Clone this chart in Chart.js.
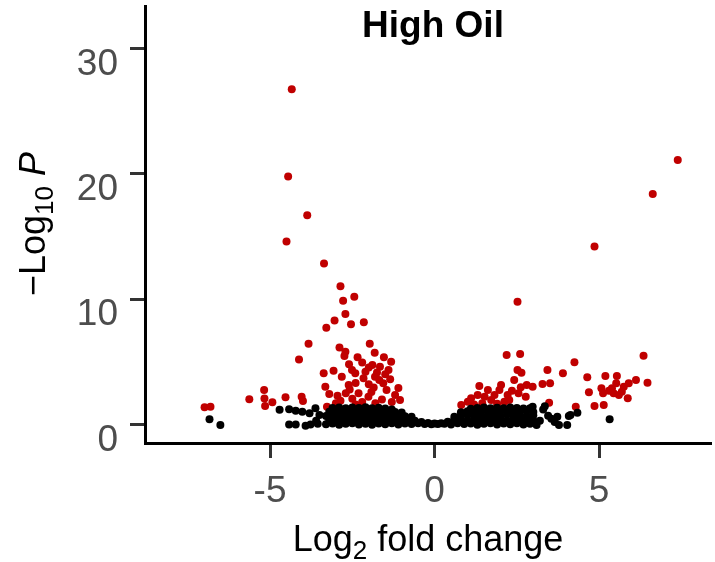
<!DOCTYPE html>
<html>
<head>
<meta charset="utf-8">
<script src="https://cdn.jsdelivr.net/npm/chart.js@4.4.1/dist/chart.umd.min.js"></script>
<style>
  html, body { margin: 0; padding: 0; background: #fff; }
  #wrap { width: 715px; height: 562px; }
</style>
</head>
<body>
<div id="wrap"><canvas id="chart" width="715" height="562"></canvas></div>
<script>
// ejes
const xTicks = [-5, 0, 5];
const yTicks = [0, 10, 20, 30];
const titulo = 'High Oil';

// genes significativos (rojo): [log2FC, -log10 P]
const rojos = [
  [-6.99,1.37],[-6.81,1.42],
  [-5.63,2.01],[-5.18,2.75],[-5.17,2.08],[-5.15,1.48],[-4.93,1.78],[-4.53,2.17],[-4.04,2.22],[-4.00,1.88],
  [-4.34,26.75],[-4.45,19.8],[-3.87,16.7],[-4.50,14.6],[-3.36,12.85],
  [-2.86,11.04],[-2.78,9.87],[-2.44,10.2],[-2.71,8.81],[-3.04,8.3],[-3.29,7.72],[-2.54,7.99],[-2.15,8.15],
  [-3.83,6.45],[-4.12,5.18],[-2.89,6.15],[-2.71,5.8],[-2.74,5.46],[-2.34,5.36],[-1.97,6.45],[-1.82,5.72],[-1.54,5.36],[-1.32,5.01],
  [-1.89,4.74],[-1.66,4.61],[-1.40,4.35],[-3.37,4.08],[-3.07,4.29],[-2.82,3.81],[-2.51,4.35],[-2.41,4.08],[-2.16,3.68],[-1.81,3.81],[-1.68,3.55],[-1.56,3.28],
  [-3.32,3.01],[-3.20,2.43],[-2.61,3.15],[-2.58,2.8],[-2.31,2.49],[-2.01,2.22],[-1.92,2.6],[-1.46,2.75],[-1.20,2.35],[-1.05,1.95],[-2.86,1.90],[-3.27,1.42],
  [-2.6,4.8],[-2.2,4.95],[-2.0,4.55],[-1.75,4.15],[-2.4,3.3],[-2.0,3.2],[-1.85,2.95],[-2.7,2.5],[-2.5,2.05],[-1.6,2.0],[-1.3,1.8],[-2.2,1.8],
  [-1.8,1.7],[-3.0,1.7],[-2.4,1.6],[-1.1,2.9],[-1.35,3.6],[-2.95,2.3],[-2.1,4.2],[-1.5,4.0],
  [0.81,1.55],[1.01,1.82],[1.11,2.09],[1.31,2.35],[1.36,3.07],[1.52,2.22],[1.62,2.75],[1.72,1.95],[1.82,2.35],[1.97,2.75],[2.02,3.15],
  [2.12,1.82],[2.22,2.35],[2.27,1.95],[1.45,1.7],[1.2,1.6],[1.9,1.65],[2.35,2.7],
  [2.52,9.79],[2.19,5.54],[2.60,5.62],[2.52,4.35],[2.64,4.13],[2.42,3.55],[2.62,2.96],[2.80,3.15],[2.98,3.01],[2.77,2.22],[2.55,2.5],
  [3.43,4.35],[3.51,3.28],[3.28,3.23],[3.48,1.74],[3.90,4.08],
  [4.25,4.96],[4.29,1.42],[4.64,3.76],[4.69,2.57],[4.86,1.48],[5.14,1.56],[5.07,2.89],[5.12,2.49],[5.19,3.87],[5.39,2.89],[5.52,3.28],
  [5.44,2.49],[5.54,3.87],[5.60,2.35],[5.69,2.62],[5.87,2.09],[5.90,3.28],[6.12,3.55],[6.35,5.49],[6.47,3.33],[5.75,3.0],[5.3,2.7],
  [4.86,14.2],[6.63,18.4],[7.39,21.1]
];

// genes no significativos (negro)
const negros = [
  [-6.84,0.41],[-6.51,-0.04],[-4.71,1.18],[-4.42,1.21],[-4.22,1.1],[-4.02,1.02],[-3.8,0.9],[-3.62,1.29],
  [-4.42,0.0],[-4.22,0.0],[-3.92,-0.1],[-3.77,0.0],[-3.6,0.3],[-3.5,0.75],[-3.55,0.05],
  [3.3,1.2],[3.45,0.7],[3.55,0.45],[3.65,0.2],[3.78,-0.04],[3.73,0.62],[4.03,-0.04],[4.08,0.68],[4.13,0.76],
  [4.34,0.94],[5.32,0.41],[3.2,0.3],[3.35,1.45],[3.1,-0.05],[2.98,1.42],[3.08,0.1],
  [-3.3,0.02],[-3.1,0.08],[-2.9,-0.02],[-2.7,0.05],[-2.5,0.1],[-2.3,0.0],[-2.1,0.06],[-1.9,-0.03],[-1.7,0.08],[-1.5,0.02],
  [-1.3,0.1],[-1.1,0.0],[-0.9,0.07],[-0.7,0.03],[-0.5,0.1],[-0.3,0.04],[-0.1,0.02],[0.1,0.03],[0.3,0.06],[0.5,0.0],
  [0.7,0.09],[0.9,0.03],[1.1,0.08],[1.3,-0.02],[1.5,0.06],[1.7,0.1],[1.9,0.0],[2.1,0.07],[2.3,0.02],[2.5,0.09],[2.7,-0.01],[2.9,0.05],
  [-0.2,0.12],[0.0,0.08],[0.2,0.1],[-0.4,0.2],[0.4,0.22],[-0.6,0.3],[0.6,0.4],
  [-3.2,0.38],[-3.0,0.32],[-2.8,0.4],[-2.6,0.3],[-2.4,0.36],[-2.2,0.42],[-2.0,0.33],[-1.8,0.38],[-1.6,0.3],[-1.4,0.4],
  [-1.2,0.35],[-1.0,0.32],[-0.8,0.4],
  [0.8,0.38],[1.0,0.32],[1.2,0.4],[1.4,0.35],[1.6,0.3],[1.8,0.42],[2.0,0.36],[2.2,0.3],[2.4,0.38],[2.6,0.34],[2.8,0.4],[3.0,0.32],
  [-3.3,0.68],[-3.1,0.75],[-2.9,0.7],[-2.7,0.66],[-2.5,0.74],[-2.3,0.7],[-2.1,0.77],[-1.9,0.68],[-1.7,0.72],[-1.5,0.66],
  [-1.3,0.75],[-1.1,0.7],[-0.9,0.66],[-0.7,0.62],
  [0.6,0.62],[0.8,0.7],[1.0,0.75],[1.2,0.68],[1.4,0.72],[1.6,0.66],[1.8,0.74],[2.0,0.7],[2.2,0.77],[2.4,0.68],[2.6,0.72],[2.8,0.66],[3.0,0.74],
  [-3.2,1.02],[-3.0,1.08],[-2.8,1.0],[-2.6,1.06],[-2.4,1.1],[-2.2,1.02],[-2.0,1.07],[-1.8,1.0],[-1.6,1.08],[-1.4,1.04],[-1.2,1.0],[-1.0,0.95],
  [0.8,0.98],[1.0,1.05],[1.2,1.08],[1.4,1.02],[1.6,1.07],[1.8,1.0],[2.0,1.06],[2.2,1.1],[2.4,1.02],[2.6,1.05],[2.8,1.08],[3.0,1.0],
  [-3.1,1.32],[-2.9,1.36],[-2.7,1.3],[-2.5,1.35],[-2.3,1.32],[-2.1,1.38],[-1.9,1.3],[-1.7,1.34],[-1.5,1.28],[-1.3,1.2],
  [1.1,1.25],[1.3,1.32],[1.5,1.36],[1.7,1.3],[1.9,1.34],[2.1,1.3],[2.3,1.36],[2.5,1.32],[2.7,1.28],[2.9,1.3]
];

const fuente = '"Liberation Sans", Arial, sans-serif';

// titulo y nombres de ejes (con subindices)
const textos = {
    id: 'textos',
    afterDraw(chart) {
        const ctx = chart.ctx;
        const area = chart.chartArea;
        ctx.save();
        ctx.fillStyle = '#000';
        ctx.textBaseline = 'alphabetic';
        ctx.textAlign = 'center';
        ctx.font = 'bold 37px ' + fuente;
        ctx.fillText(titulo, 433, 37);

        // dibuja partes seguidas, centradas en 0
        function partes(lista) {
            let total = 0;
            lista.forEach(p => { ctx.font = p.f; total += ctx.measureText(p.t).width; });
            let x = -total / 2;
            ctx.textAlign = 'left';
            lista.forEach(p => {
                ctx.font = p.f;
                ctx.fillText(p.t, x, p.dy || 0);
                x += ctx.measureText(p.t).width;
            });
        }

        ctx.save();
        ctx.translate((area.left + area.right) / 2, 551);
        partes([
            { t: 'Log', f: '36px ' + fuente },
            { t: '2', f: '26px ' + fuente, dy: 8 },
            { t: ' fold change', f: '36px ' + fuente }
        ]);
        ctx.restore();

        ctx.save();
        ctx.translate(45, 224);
        ctx.rotate(-Math.PI / 2);
        partes([
            { t: '\u2212Log', f: '36px ' + fuente },
            { t: '10', f: '26px ' + fuente, dy: 8 },
            { t: ' ', f: '36px ' + fuente },
            { t: 'P', f: 'italic 36px ' + fuente }
        ]);
        ctx.restore();
        ctx.restore();
    }
};

const ctx = document.getElementById('chart').getContext('2d');
const myChart = new Chart(ctx, {
    type: 'scatter',
    data: {
        datasets: [
            {
                data: negros.map(p => ({ x: p[0], y: p[1] })),
                backgroundColor: '#000000',
                borderWidth: 0,
                pointRadius: 4
            },
            {
                data: rojos.map(p => ({ x: p[0], y: p[1] })),
                backgroundColor: '#c00000',
                borderWidth: 0,
                pointRadius: 4
            }
        ]
    },
    options: {
        responsive: false,
        animation: false,
        layout: { padding: { top: 6, right: 0, left: 0, bottom: 0 } },
        plugins: { legend: { display: false }, tooltip: { enabled: false } },
        scales: {
            x: {
                type: 'linear',
                min: -8.8,
                max: 8.4,
                border: { color: '#000', width: 3 },
                grid: { drawOnChartArea: false, drawTicks: true, tickLength: 15, tickColor: '#333', tickWidth: 3 },
                ticks: { color: '#4d4d4d', font: { size: 37, family: fuente }, padding: 12, maxRotation: 0 },
                afterBuildTicks: s => { s.ticks = xTicks.map(v => ({ value: v })); },
                afterFit: s => { s.height = 119; s.paddingLeft = 0; s.paddingRight = 0; }
            },
            y: {
                type: 'linear',
                min: -1.48,
                max: 33.4,
                border: { color: '#000', width: 3 },
                grid: { drawOnChartArea: false, drawTicks: true, tickLength: 15, tickColor: '#333', tickWidth: 3 },
                ticks: { color: '#4d4d4d', font: { size: 37, family: fuente }, padding: 12, labelOffset: 16 },
                afterBuildTicks: s => { s.ticks = yTicks.map(v => ({ value: v })); },
                afterFit: s => { s.width = 145; s.paddingTop = 0; s.paddingBottom = 0; }
            }
        }
    },
    plugins: [textos]
});
</script>
</body>
</html>
